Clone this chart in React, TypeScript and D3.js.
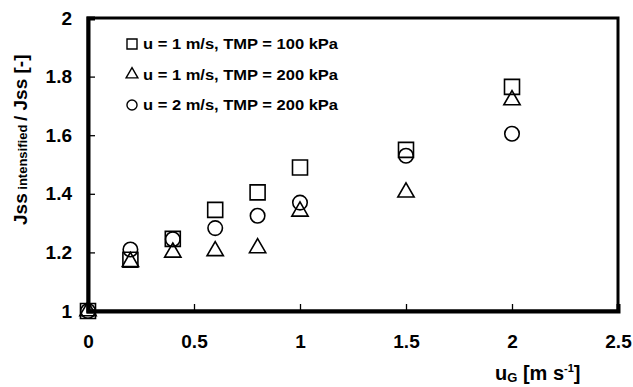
import React from "react";
import * as d3 from "d3";

const xVals = [0, 0.2, 0.4, 0.6, 0.8, 1.0, 1.5, 2.0];
const sqVals = [1.0, 1.175, 1.246, 1.345, 1.405, 1.49, 1.55, 1.765];
const triVals = [1.0, 1.168, 1.2, 1.205, 1.215, 1.34, 1.405, 1.72];
const circVals = [1.0, 1.21, 1.245, 1.283, 1.325, 1.37, 1.53, 1.605];
const xTicks = [0, 0.5, 1, 1.5, 2, 2.5];
const yTicks = [1, 1.2, 1.4, 1.6, 1.8, 2];
const legendLabels = [
    "u = 1 m/s, TMP = 100 kPa",
    "u = 1 m/s, TMP = 200 kPa",
    "u = 2 m/s, TMP = 200 kPa",
];

const FONT = "'Liberation Sans', Arial, sans-serif";

function App() {
    const svgRef = React.useRef(null);

    const width = 633;
    const height = 387;
    const margin = { top: 18, right: 15, bottom: 76, left: 88 };

    React.useEffect(() => {
        const svg = d3.select(svgRef.current);
        svg.selectAll("*").remove();

        const x = d3.scaleLinear().domain([0, 2.5]).range([margin.left, width - margin.right]);
        const y = d3.scaleLinear().domain([1, 2]).range([height - margin.bottom, margin.top]);

        const sym = (type, size) => d3.symbol().type(type).size(size)();

        // frame
        svg.append("rect")
            .attr("x", x(0)).attr("y", y(2))
            .attr("width", x(2.5) - x(0)).attr("height", y(1) - y(2))
            .attr("fill", "none").attr("stroke", "#000").attr("stroke-width", 3);

        // points
        const series = [
            { vals: sqVals, type: d3.symbolSquare, size: 225 },
            { vals: triVals, type: d3.symbolTriangle, size: 115 },
            { vals: circVals, type: d3.symbolCircle, size: 165 },
        ];
        series.forEach(s => {
            svg.append("g").selectAll("path")
                .data(xVals.map((v, i) => [v, s.vals[i]]))
                .join("path")
                .attr("transform", d => `translate(${x(d[0])},${y(d[1])})`)
                .attr("d", sym(s.type, s.size))
                .attr("fill", "none").attr("stroke", "#000").attr("stroke-width", 1.6);
        });

        // axes
        const ax = svg.append("g")
            .attr("transform", `translate(0,${y(1)})`)
            .call(d3.axisBottom(x).tickValues(xTicks).tickSize(-7).tickPadding(24).tickFormat(d3.format("")));
        const ay = svg.append("g")
            .attr("transform", `translate(${x(0)},0)`)
            .call(d3.axisLeft(y).tickValues(yTicks).tickSize(-7).tickPadding(16).tickFormat(d3.format("")));
        [ax, ay].forEach(a => {
            a.select(".domain").attr("stroke-width", 4);
            a.selectAll(".tick line").attr("stroke-width", 1.3);
            a.selectAll("text")
                .attr("font-family", FONT).attr("font-weight", "bold")
                .attr("font-size", 19).attr("fill", "#000");
        });
        ax.selectAll(".tick").filter(d => d === 0 || d === 2.5).select("line").remove();
        ay.selectAll(".tick").filter(d => d === 1 || d === 2).select("line").remove();

        // legend
        const leg = svg.append("g");
        const legTypes = [d3.symbolSquare, d3.symbolTriangle, d3.symbolCircle];
        const legSizes = [100, 60, 80];
        legendLabels.forEach((t, i) => {
            const ly = 44 + i * 30.5;
            leg.append("path")
                .attr("transform", `translate(132,${ly})`)
                .attr("d", sym(legTypes[i], legSizes[i]))
                .attr("fill", "none").attr("stroke", "#000").attr("stroke-width", 1.4);
            leg.append("text")
                .attr("x", 143).attr("y", ly + 5)
                .attr("font-family", FONT).attr("font-weight", "bold").attr("font-size", 14)
                .attr("textLength", 195).attr("lengthAdjust", "spacingAndGlyphs")
                .text(t);
        });

        // x title
        const xt = svg.append("text")
            .attr("x", 495).attr("y", 380)
            .attr("font-family", FONT).attr("font-weight", "bold").attr("font-size", 20);
        xt.append("tspan").text("u");
        xt.append("tspan").attr("font-size", 13).attr("dy", 2).text("G");
        xt.append("tspan").attr("dy", -2).text(" [m s");
        xt.append("tspan").attr("font-size", 11).attr("dy", -8).text("-1");
        xt.append("tspan").attr("dy", 8).text("]");

        // y title
        const yt = svg.append("text")
            .attr("transform", "translate(27,225) rotate(-90)")
            .attr("font-family", FONT).attr("font-weight", "bold").attr("font-size", 19);
        yt.append("tspan").text("Jss");
        yt.append("tspan").attr("font-size", 13).text(" intensified ");
        yt.append("tspan").text("/ Jss [-]");
    }, []);

    return (
        <svg ref={svgRef} width={width} height={height}
            style={{ position: "absolute", left: 0, top: 0, background: "#fff" }} />
    );
}

export default App;
